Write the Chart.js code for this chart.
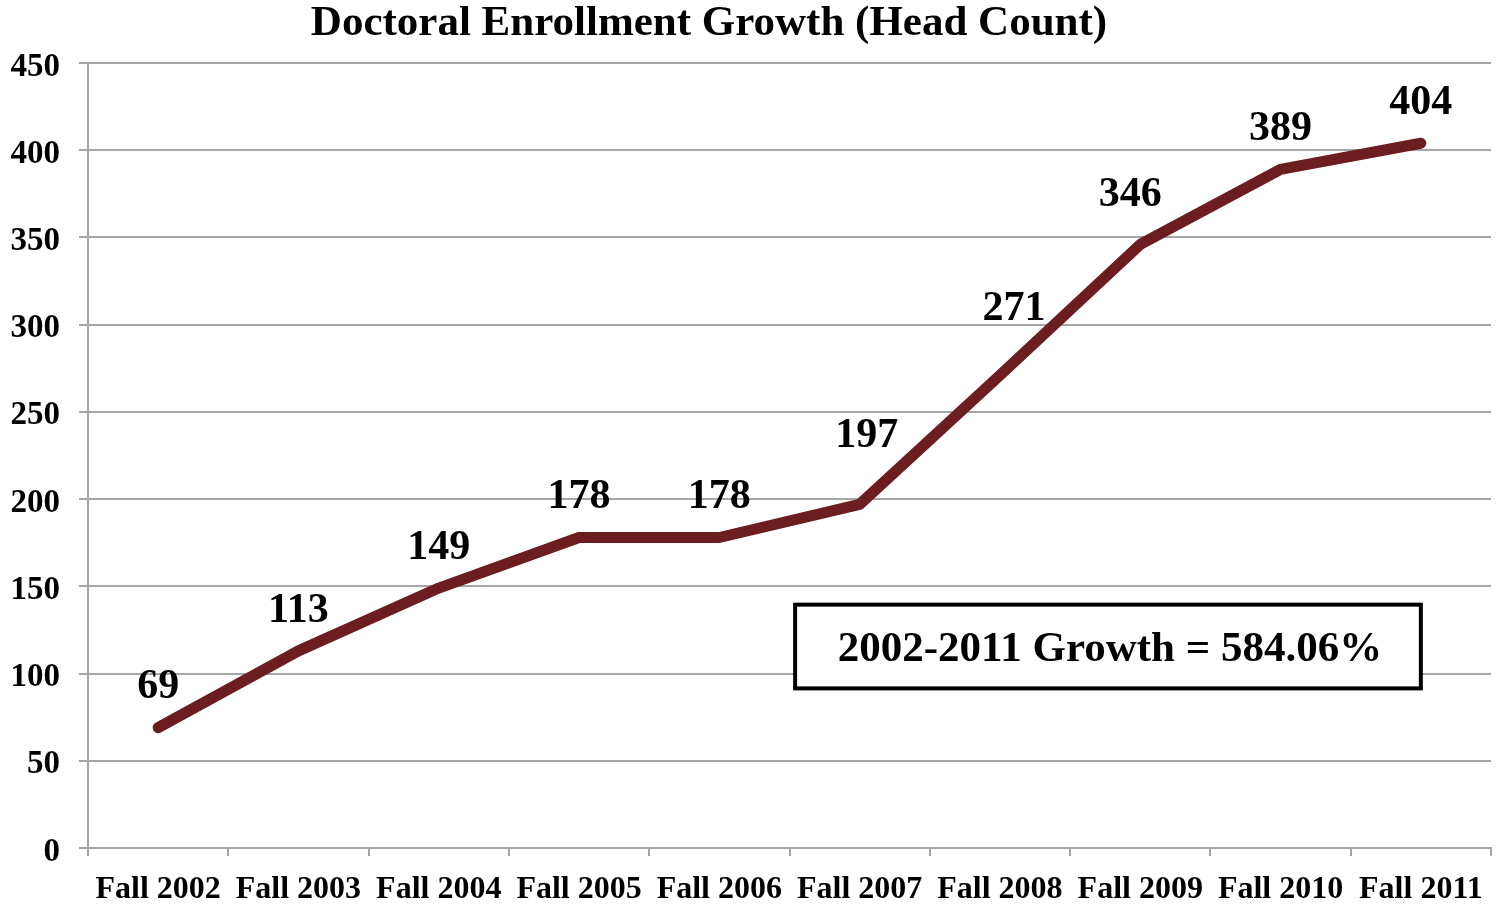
<!DOCTYPE html>
<html>
<head>
<meta charset="utf-8">
<script src="https://cdn.jsdelivr.net/npm/chart.js@4.4.0/dist/chart.umd.min.js"></script>
<style>
  html, body { margin: 0; padding: 0; background: #fff; }
  #wrap { width: 1501px; height: 904px; }
</style>
</head>
<body>
<div id="wrap"><canvas id="myChart" width="1501" height="904"></canvas></div>
<script>
var terms = ["Fall 2002", "Fall 2003", "Fall 2004", "Fall 2005", "Fall 2006", "Fall 2007", "Fall 2008", "Fall 2009", "Fall 2010", "Fall 2011"];
var headCount = [69, 113, 149, 178, 178, 197, 271, 346, 389, 404];
var yTicks = [0, 50, 100, 150, 200, 250, 300, 350, 400, 450];
var chartTitle = "Doctoral Enrollment Growth (Head Count)";
var growthNote = "2002-2011 Growth = 584.06%";

var serif = "'Liberation Serif', 'Times New Roman', serif";
var lineColor = "#6b1d1f";
var gridColor = "#a6a6a6";

// labels sit above each point, a few are nudged like in the original
var labelNudge = [[0,0],[0,0],[0,0],[0,0],[0,0],[7,-28],[14,-26],[-10,-9],[0,0],[0,0]];

var extras = {
  id: "extras",
  afterDatasetsDraw: function(chart) {
    var ctx = chart.ctx;
    var meta = chart.getDatasetMeta(0);
    var xs = chart.scales.x, ys = chart.scales.y;
    ctx.save();
    // title
    ctx.fillStyle = "#000";
    ctx.font = "bold 43px " + serif;
    ctx.textAlign = "center";
    ctx.textBaseline = "middle";
    ctx.fillText(chartTitle, 709, 24);

    // point labels
    ctx.font = "bold 42px " + serif;
    meta.data.forEach(function(pt, i) {
      var n = labelNudge[i];
      ctx.fillText(String(headCount[i]), pt.x + n[0], pt.y - 40 + n[1]);
    });

    // growth box
    var l = xs.getPixelForValue(4.54), r = xs.getPixelForValue(9);
    var t = ys.getPixelForValue(139.5), b = ys.getPixelForValue(91.5);
    ctx.fillStyle = "#fff";
    ctx.fillRect(l, t, r - l, b - t);
    ctx.lineWidth = 4;
    ctx.strokeStyle = "#000";
    ctx.strokeRect(l, t, r - l, b - t);
    ctx.fillStyle = "#000";
    ctx.font = "bold 43px " + serif;
    ctx.fillText(growthNote, (l + r) / 2 + 2, (t + b) / 2 + 3);
    ctx.restore();
  }
};

var ctx = document.getElementById("myChart").getContext("2d");
var chart = new Chart(ctx, {
  type: "line",
  data: {
    labels: terms,
    datasets: [{
      data: headCount,
      borderColor: lineColor,
      backgroundColor: lineColor,
      borderWidth: 11,
      borderCapStyle: "round",
      borderJoinStyle: "round",
      pointRadius: 0,
      tension: 0,
      fill: false
    }]
  },
  options: {
    responsive: false,
    animation: false,
    layout: { padding: { top: 63, right: 10, left: 0, bottom: 0 } },
    plugins: {
      legend: { display: false },
      title: { display: false },
      tooltip: { enabled: false }
    },
    scales: {
      x: {
        offset: true,
        grid: { offset: true, drawOnChartArea: false, color: gridColor, lineWidth: 2, tickLength: 8 },
        border: { color: gridColor, width: 2 },
        ticks: {
          color: "#000",
          font: { family: serif, size: 32, weight: "bold" },
          padding: 15,
          maxRotation: 0,
          autoSkip: false
        },
        afterFit: function(scale) { scale.height = 56; }
      },
      y: {
        min: 0,
        max: 450,
        afterBuildTicks: function(scale) {
          scale.ticks = yTicks.map(function(v) { return { value: v }; });
        },
        grid: { color: gridColor, lineWidth: 2, tickLength: 9 },
        border: { color: gridColor, width: 2 },
        ticks: {
          color: "#000",
          font: { family: serif, size: 33, weight: "bold" },
          padding: 19,
          labelOffset: 4
        },
        afterFit: function(scale) { scale.width = 88; }
      }
    }
  },
  plugins: [extras]
});
</script>
</body>
</html>
